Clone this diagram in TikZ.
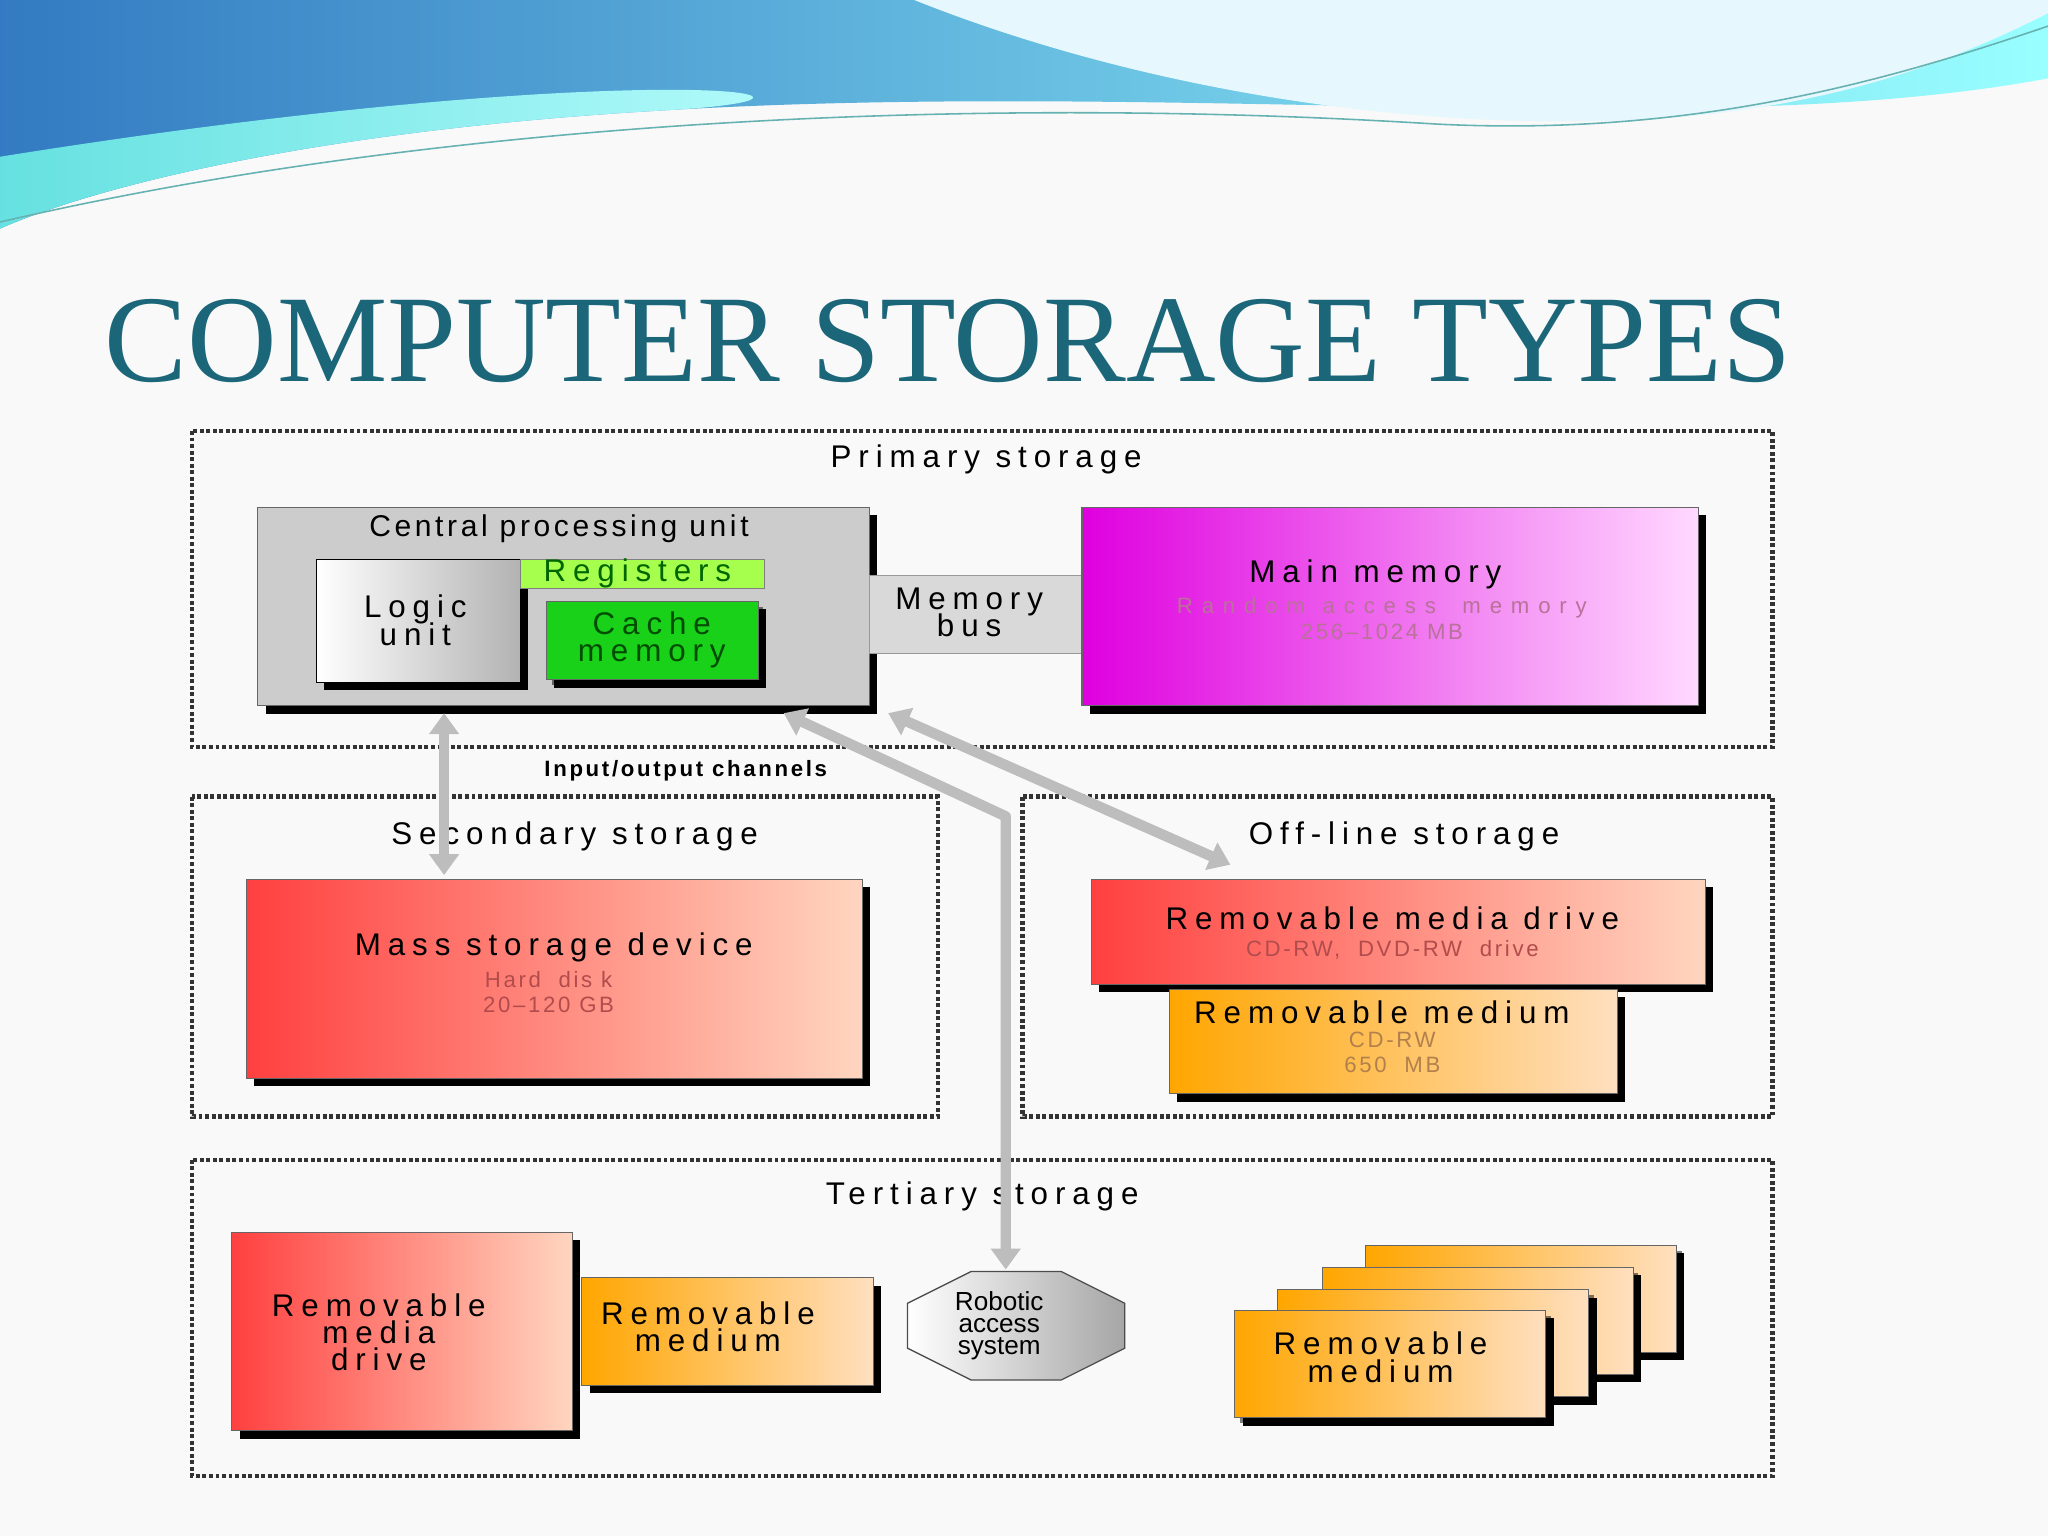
\documentclass[tikz,border=0pt]{standalone}
\usepackage{fontspec}
\setmainfont{Liberation Serif}
\setsansfont{Liberation Sans}
\newfontfamily\wide{Liberation Sans}[LetterSpace=22]
\newfontfamily\wides{Liberation Sans}[LetterSpace=12]
\usetikzlibrary{shapes.geometric,arrows.meta,shadows}
\definecolor{titlec}{HTML}{1B6679}
\definecolor{arr}{HTML}{BDBDBD}
\begin{document}
\begin{tikzpicture}[x=1pt,y=-1pt,
  lbl/.style={font=\wide\fontsize{24}{25}\selectfont,align=center,inner sep=0},
  sub/.style={font=\wides\fontsize{17}{20}\selectfont,text=gray!70,inner sep=0},
  bx/.style={anchor=north west,inner sep=0,draw=black!60,line width=0.8pt,drop shadow={shadow xshift=6pt,shadow yshift=-6pt,fill=black,opacity=1}},
  grp/.style={draw=black!80,line width=3.5pt,dash pattern=on 3pt off 2pt},
  io/.style={draw=arr,line width=8pt,{Triangle[length=16pt,width=22pt]}-{Triangle[length=16pt,width=22pt]}}]
\useasboundingbox (0,0) rectangle (1568,1176);
\fill[white!95!gray] (0,0) rectangle (1568,1176);
% header wave
\shade[left color=cyan!50!blue!70!black!80,right color=cyan!40] (0,0) -- (1568,0) -- (1568,60) .. controls (1300,110) and (900,60) .. (500,85) .. controls (250,100) and (80,140) .. (0,175) -- cycle;
\shade[left color=cyan!60!teal!60,right color=cyan!25] (0,175) .. controls (80,140) and (250,100) .. (500,85) .. controls (700,75) and (500,40) .. (0,120) -- cycle;
\fill[white!90!cyan] (700,0) .. controls (850,60) and (1050,100) .. (1250,92) .. controls (1400,85) and (1500,45) .. (1568,10) -- (1568,0) -- cycle;
\draw[teal!60,line width=1.2pt] (0,170) .. controls (300,100) and (700,70) .. (1100,95) .. controls (1300,105) and (1450,60) .. (1568,20);
\node[anchor=base west,text=titlec,font=\fontsize{95}{100}\selectfont,inner sep=0] (title) at (80,292) {COMPUTER STORAGE TYPES};
% groups
\draw[grp] (147,330) rectangle (1357,572);
\node[lbl] (pl) at (755,352) {Primary storage};
\draw[grp] (147,610) rectangle (718,855);
\node[lbl] (sl) at (440,640) {Secondary storage};
\draw[grp] (783,610) rectangle (1357,855);
\node[lbl] (ol) at (1075,640) {Off-line storage};
\draw[grp] (147,888) rectangle (1357,1130);
\node[lbl] (tl) at (752,916) {Tertiary storage};
% primary
\node[bx,fill=gray!40,minimum width=468,minimum height=152] (cpu) at (197,388) {};
\node[lbl,font=\wides\fontsize{23}{24}\selectfont] at (428,405) {Central processing unit};
\node[bx,draw=black,left color=white,right color=gray!60,minimum width=156,minimum height=94,drop shadow={shadow xshift=0pt,shadow yshift=0pt,opacity=0}] (lu) at (242,428) {};
\node[lbl] at (318,475) {Logic\\[-4pt]unit};
\node[anchor=north west,fill=green!50!yellow!70,draw=black!50,minimum width=187,minimum height=22,inner sep=0] (reg) at (398,428) {};
\node[lbl,text=green!40!black] at (488,439) {Registers};
\node[bx,fill=green!80!black!90,minimum width=162,minimum height=60,drop shadow={shadow xshift=4pt,shadow yshift=-4pt,fill=black}] (cache) at (418,460) {};
\node[lbl,text=green!30!black] at (499,490) {Cache\\[-4pt]memory};
\node[anchor=north west,fill=gray!30,draw=black!40,minimum width=163,minimum height=60,inner sep=0] (bus) at (665,440) {};
\node[lbl] at (742,469) {Memory\\[-4pt]bus};
\node[bx,left color=magenta!75!violet,right color=magenta!15,minimum width=472,minimum height=152] (mm) at (828,388) {};
\node[lbl] at (1053,440) {Main memory};
\node[sub,text=magenta!40!gray] at (1058,465) {R a n d o m \ a c c e s s \ \ m e m o r y};
\node[sub,text=magenta!40!gray] at (1058,484) {256–1024 MB};
% secondary
\node[bx,left color=red!75!white,right color=red!30!orange!25,minimum width=472,minimum height=152] (ms) at (188,673) {};
\node[lbl] at (424,725) {Mass storage device};
\node[sub,text=red!40!gray] at (420,750) {Hard \ dis k};
\node[sub,text=red!40!gray] at (420,769) {20–120 GB};
% offline
\node[bx,left color=red!75!white,right color=red!30!orange!25,minimum width=470,minimum height=80] (rmd) at (835,673) {};
\node[lbl] at (1066,703) {Removable media drive};
\node[sub,text=red!40!gray] at (1066,727) {CD-RW, \ DVD-RW \ drive};
\node[bx,left color=orange!70!yellow,right color=orange!25,minimum width=343,minimum height=80] (rm) at (895,757) {};
\node[lbl] at (1058,775) {Removable medium};
\node[sub,text=orange!40!gray] at (1066,796) {CD-RW};
\node[sub,text=orange!40!gray] at (1066,815) {650 \ MB};
% tertiary
\node[bx,left color=red!75!white,right color=red!30!orange!25,minimum width=261,minimum height=152] (trd) at (177,943) {};
\node[lbl] at (290,1020) {Removable\\[-4pt]media\\[-4pt]drive};
\node[bx,left color=orange!70!yellow,right color=orange!25,minimum width=223,minimum height=82] (trm) at (445,978) {};
\node[lbl] at (542,1016) {Removable\\[-4pt]medium};
\node[regular polygon,regular polygon sides=8,draw=black!70,line width=1pt,left color=white,right color=gray!70,minimum width=180,yscale=0.5,inner sep=0] (ras) at (778,1015) {};
\node[lbl,font=\sffamily\fontsize{20}{20}\selectfont] at (765,1015) {Robotic\\[-3pt]access\\[-3pt]system};
\foreach \n/\x/\y in {s4/1045/953,s3/1012/970,s2/978/987,s1/945/1003}
  \node[bx,left color=orange!70!yellow,right color=orange!25,minimum width=238,minimum height=82,drop shadow={shadow xshift=4pt,shadow yshift=-4pt,fill=black}] (\n) at (\x,\y) {};
\node[lbl] at (1057,1039) {Removable\\[-4pt]medium};
% channels
\coordinate (a1) at (340,546); \coordinate (b1) at (340,670);
\coordinate (a2) at (600,546); \coordinate (k2) at (770,625); \coordinate (b2) at (770,972);
\coordinate (a3) at (680,546); \coordinate (b3) at (942,662);
\draw[io] (a1) -- (b1);
\draw[io,line join=round] (a2) -- (k2) -- (b2);
\draw[io] (a3) -- (b3);
\node[font=\wides\bfseries\fontsize{17}{18}\selectfont,inner sep=0] (ioc) at (525,590) {Input/output channels};
\end{tikzpicture}
\end{document}
